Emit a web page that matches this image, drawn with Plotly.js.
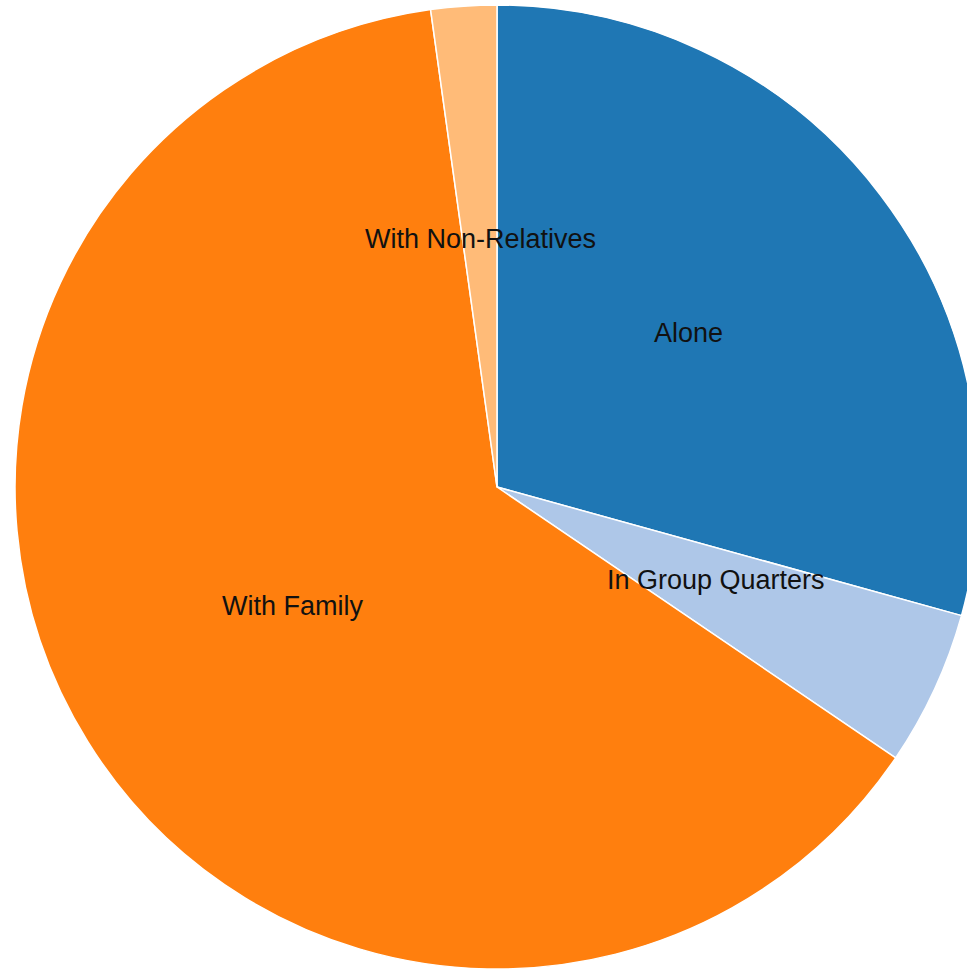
<!DOCTYPE html>
<html>
<head>
<meta charset="utf-8">
<script src="https://cdn.plot.ly/plotly-3.0.1.min.js"></script>
<style>
html,body{margin:0;padding:0;overflow:hidden;background:#fff;}
#chart{width:985px;height:970px;}
</style>
</head>
<body>
<div id="chart"></div>
<script>
const categories = ["Alone", "In Group Quarters", "With Family", "With Non-Relatives"];
const values = [29.3, 5.2, 63.3, 2.2];
const colors = ["#1f77b4", "#aec7e8", "#ff7f0e", "#ffbb78"];

const total = values.reduce((a, b) => a + b, 0);
const annotations = [];
let cum = 0;
values.forEach((v, i) => {
  const mid = (cum + v / 2) / total * 2 * Math.PI;
  cum += v;
  annotations.push({
    xref: "paper", yref: "paper",
    x: 0.5 + 0.25 * Math.sin(mid),
    y: 0.5 + 0.25 * Math.cos(mid),
    yshift: 8,
    text: categories[i],
    showarrow: false,
    xanchor: "center", yanchor: "middle",
    font: {family: "Liberation Sans, Arial, sans-serif", size: 27, color: "#111"}
  });
});

const data = [{
  type: "pie",
  labels: categories,
  values: values,
  sort: false,
  direction: "clockwise",
  rotation: 0,
  textinfo: "none",
  hoverinfo: "label+value",
  marker: {colors: colors, line: {color: "#ffffff", width: 1.5}}
}];

const layout = {
  width: 985,
  height: 970,
  margin: {l: 15, r: 6, t: 5, b: 1, pad: 0},
  showlegend: false,
  paper_bgcolor: "#ffffff",
  annotations: annotations
};

Plotly.newPlot("chart", data, layout, {displayModeBar: false, staticPlot: true});
</script>
</body>
</html>
